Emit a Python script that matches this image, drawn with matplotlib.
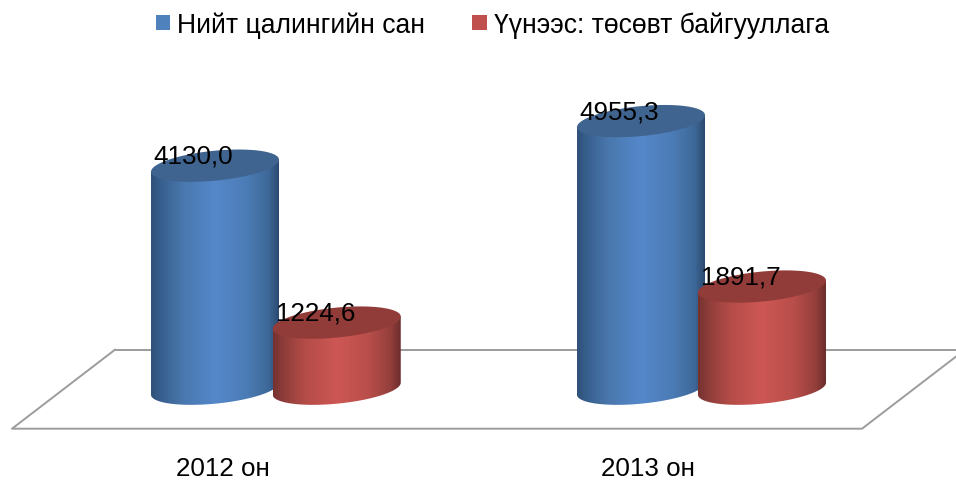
import matplotlib.pyplot as plt
from matplotlib.colors import LinearSegmentedColormap
from matplotlib.patches import PathPatch, Patch
from matplotlib.path import Path
import numpy as np

plt.rcParams['font.family'] = ['Liberation Sans', 'DejaVu Sans']

categories = ['2012 он', '2013 он']
series_names = ['Нийт цалингийн сан', 'Үүнээс: төсөвт байгууллага']
total_fund = [4130.0, 4955.3]
budget_org = [1224.6, 1891.7]
value_labels = [['4130,0', '4955,3'], ['1224,6', '1891,7']]

W, H = 956, 481
fontsize = 18.7
legend_fontsize = 19.1

# layout, in pixels of the picture
base_px = 389
px_per_unit = 0.054
half_width = 64
ell_b = 15 / px_per_unit
ell_k = 6 / px_per_unit


def py(y_px):
    return (base_px - y_px) / px_per_unit


blue_cmap = LinearSegmentedColormap.from_list('blue_cyl', [
    (0.0, '#2F5078'), (0.08, '#38608F'), (0.25, '#4A78AE'),
    (0.5, '#5588CB'), (0.75, '#4C7CB5'), (0.92, '#3D6898'), (1.0, '#2C4A70'),
])
red_cmap = LinearSegmentedColormap.from_list('red_cyl', [
    (0.0, '#75322F'), (0.08, '#8E3D3A'), (0.25, '#B44C48'),
    (0.5, '#CD5754'), (0.75, '#B84E4A'), (0.92, '#943F3C'), (1.0, '#6C2D2B'),
])
gradient = np.linspace(0, 1, 256).reshape(1, -1)


def draw_cylinder(ax, cx, value, cmap, top_color, z):
    t = np.linspace(np.pi, 2 * np.pi, 80)
    low_x = cx + half_width * np.cos(t)
    low_y = ell_b * np.sin(t) + ell_k * np.cos(t)

    xs = np.concatenate([low_x, [cx + half_width, cx - half_width, cx - half_width]])
    ys = np.concatenate([low_y, [value + ell_k, value - ell_k, -ell_k]])
    body = PathPatch(Path(np.column_stack([xs, ys])), facecolor='none', edgecolor='none',
                     transform=ax.transData)
    ax.add_patch(body)
    im = ax.imshow(
        gradient,
        cmap=cmap,
        aspect='auto',
        extent=(cx - half_width, cx + half_width, py(410), value + ell_b * 1.5),
        zorder=z
    )
    im.set_clip_path(body)

    t = np.linspace(0, 2 * np.pi, 160)
    ax.fill(
        cx + half_width * np.cos(t),
        value + ell_b * np.sin(t) + ell_k * np.cos(t),
        color=top_color,
        linewidth=0,
        zorder=z + 0.5
    )


fig = plt.figure(figsize=(W / 100, H / 100), dpi=100)
ax = fig.add_axes([0, 0, 1, 1])

# floor of the 3d plot
floor_color = '#9C9C9C'
ax.plot([115, 12, 862, 965], [py(350), py(429), py(429), py(350)],
        color=floor_color, linewidth=1.4, zorder=1)
ax.plot([115, 965], [py(350), py(350)], color=floor_color, linewidth=1.4, zorder=1)

blue_x = [215, 641]
red_x = [336.75, 762]
label_x = [223, 648]

for i in range(len(categories)):
    draw_cylinder(ax, blue_x[i], total_fund[i], blue_cmap, '#3F648F', 2)
    draw_cylinder(ax, red_x[i], budget_org[i], red_cmap, '#923C39', 3)

    ax.text(blue_x[i] - 22, total_fund[i] + 10 / px_per_unit, value_labels[0][i],
            fontsize=fontsize, ha='center', va='center', color='black', zorder=5)
    ax.text(red_x[i] - 21, budget_org[i] + 10 / px_per_unit, value_labels[1][i],
            fontsize=fontsize, ha='center', va='center', color='black', zorder=5)
    ax.text(label_x[i], py(468), categories[i],
            fontsize=fontsize, ha='center', va='center', color='black')

ax.set_xlim(0, W)
ax.set_ylim(py(H - 0.7), py(-0.7))
ax.axis('off')

handles = [Patch(facecolor='#4F81BD', edgecolor='none'),
           Patch(facecolor='#C0504D', edgecolor='none')]
fig.legend(
    handles,
    series_names,
    loc='upper left',
    bbox_to_anchor=(156 / W, 1 - 12.5 / H),
    ncol=2,
    fontsize=legend_fontsize,
    frameon=False,
    borderpad=0,
    borderaxespad=0,
    handlelength=0.53,
    handleheight=0.53,
    handletextpad=0.27,
    columnspacing=1.78
)

plt.savefig('out.png', dpi=100)
